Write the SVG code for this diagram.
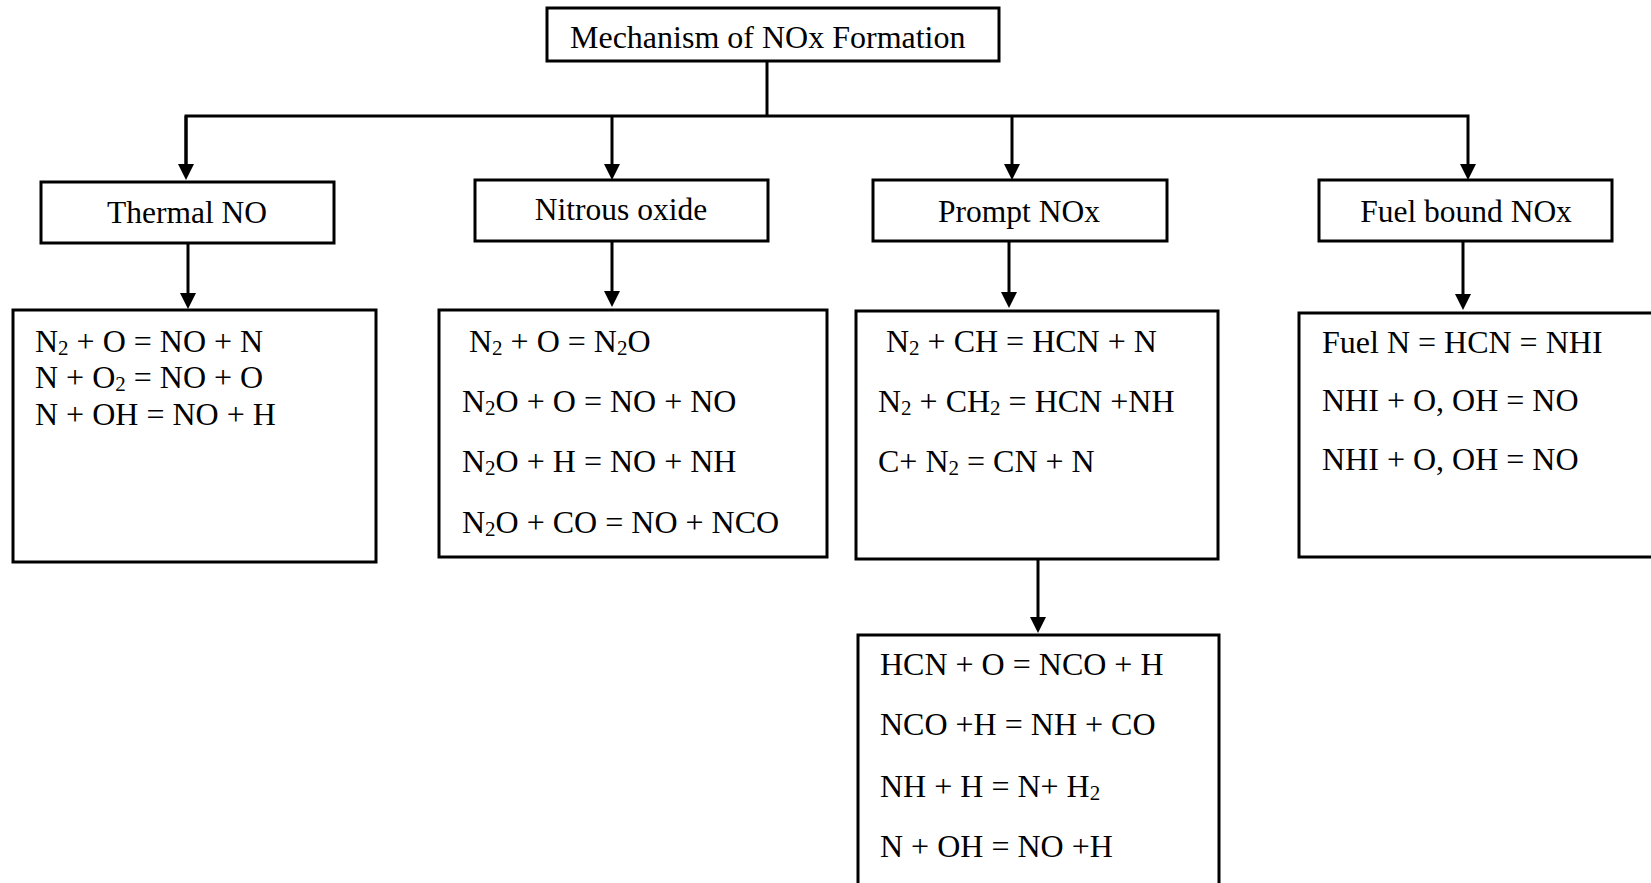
<svg xmlns="http://www.w3.org/2000/svg" width="1651" height="883" viewBox="0 0 1651 883">
  <style>
    .box { fill: #ffffff; stroke: #000000; stroke-width: 3; }
    .wire { fill: none; stroke: #000000; stroke-width: 3; stroke-linejoin: miter; }
    .lbl { font-family: "Liberation Serif", "Times New Roman", serif; font-size: 31.5px; fill: #000000; text-anchor: middle; }
    .eq { font-family: "Liberation Serif", "Times New Roman", serif; font-size: 32px; fill: #000000; }
    .sub { font-size: 21px; }
  </style>
  <defs>
    <marker id="head" markerUnits="userSpaceOnUse" markerWidth="16" markerHeight="16" viewBox="0 0 16 16" refX="0" refY="8" orient="auto">
      <path d="M0,0 L16,8 L0,16 Z" fill="#000000"/>
    </marker>
  </defs>
  <rect width="1651" height="883" fill="#ffffff"/>

  <!-- connectors -->
  <g id="connectors">
    <path class="wire" d="M767,61 V116"/>
    <path class="wire" d="M186,164 V116 H1468 V164" marker-end="url(#head)"/>
    <path class="wire" d="M186,116 V164" marker-end="url(#head)"/>
    <path class="wire" d="M612,116 V164" marker-end="url(#head)"/>
    <path class="wire" d="M1012,116 V164" marker-end="url(#head)"/>
    <path class="wire" d="M188,243 V293" marker-end="url(#head)"/>
    <path class="wire" d="M612,241 V291" marker-end="url(#head)"/>
    <path class="wire" d="M1009,241 V292" marker-end="url(#head)"/>
    <path class="wire" d="M1463,241 V294" marker-end="url(#head)"/>
    <path class="wire" d="M1038,559 V617" marker-end="url(#head)"/>
  </g>

  <!-- root -->
  <g id="root">
    <rect class="box" x="547" y="8" width="452" height="53"/>
    <text class="eq" x="570" y="48">Mechanism of NOx Formation</text>
  </g>

  <!-- mechanism categories -->
  <g id="thermal">
    <rect class="box" x="41" y="182" width="293" height="61"/>
    <text class="lbl" x="187" y="223">Thermal NO</text>
  </g>
  <g id="nitrous">
    <rect class="box" x="475" y="180" width="293" height="61"/>
    <text class="lbl" x="621" y="220">Nitrous oxide</text>
  </g>
  <g id="prompt">
    <rect class="box" x="873" y="180" width="294" height="61"/>
    <text class="lbl" x="1019" y="221.5">Prompt NOx</text>
  </g>
  <g id="fuel">
    <rect class="box" x="1319" y="180" width="293" height="61"/>
    <text class="lbl" x="1466" y="221.5">Fuel bound NOx</text>
  </g>

  <!-- reaction sets -->
  <g id="thermal-reactions">
    <rect class="box" x="13" y="310" width="363" height="252"/>
    <text class="eq" x="35" y="352">N<tspan class="sub" dy="3">2</tspan><tspan dy="-3"> + O = NO + N</tspan></text>
    <text class="eq" x="35" y="388">N + O<tspan class="sub" dy="3">2</tspan><tspan dy="-3"> = NO + O</tspan></text>
    <text class="eq" x="35" y="425">N + OH = NO + H</text>
  </g>

  <g id="nitrous-reactions">
    <rect class="box" x="439" y="310" width="388" height="247"/>
    <text class="eq" x="469" y="352">N<tspan class="sub" dy="3">2</tspan><tspan dy="-3"> + O = N</tspan><tspan class="sub" dy="3">2</tspan><tspan dy="-3">O</tspan></text>
    <text class="eq" x="462" y="412">N<tspan class="sub" dy="3">2</tspan><tspan dy="-3">O + O = NO + NO</tspan></text>
    <text class="eq" x="462" y="472">N<tspan class="sub" dy="3">2</tspan><tspan dy="-3">O + H = NO + NH</tspan></text>
    <text class="eq" x="462" y="533">N<tspan class="sub" dy="3">2</tspan><tspan dy="-3">O + CO = NO + NCO</tspan></text>
  </g>

  <g id="prompt-reactions">
    <rect class="box" x="856" y="311" width="362" height="248"/>
    <text class="eq" x="886" y="352">N<tspan class="sub" dy="3">2</tspan><tspan dy="-3"> + CH = HCN + N</tspan></text>
    <text class="eq" x="878" y="412">N<tspan class="sub" dy="3">2</tspan><tspan dy="-3"> + CH</tspan><tspan class="sub" dy="3">2</tspan><tspan dy="-3"> = HCN +NH</tspan></text>
    <text class="eq" x="878" y="472">C+ N<tspan class="sub" dy="3">2</tspan><tspan dy="-3"> = CN + N</tspan></text>
  </g>

  <g id="fuel-reactions">
    <rect class="box" x="1299" y="313" width="400" height="244"/>
    <text class="eq" x="1322" y="353">Fuel N = HCN = NHI</text>
    <text class="eq" x="1322" y="411">NHI + O, OH = NO</text>
    <text class="eq" x="1322" y="470">NHI + O, OH = NO</text>
  </g>

  <g id="prompt-followup">
    <rect class="box" x="858" y="635" width="361" height="300"/>
    <text class="eq" x="880" y="675">HCN + O = NCO + H</text>
    <text class="eq" x="880" y="735">NCO +H = NH + CO</text>
    <text class="eq" x="880" y="797">NH + H = N+ H<tspan class="sub" dy="3">2</tspan></text>
    <text class="eq" x="880" y="857">N + OH = NO +H</text>
  </g>
</svg>
